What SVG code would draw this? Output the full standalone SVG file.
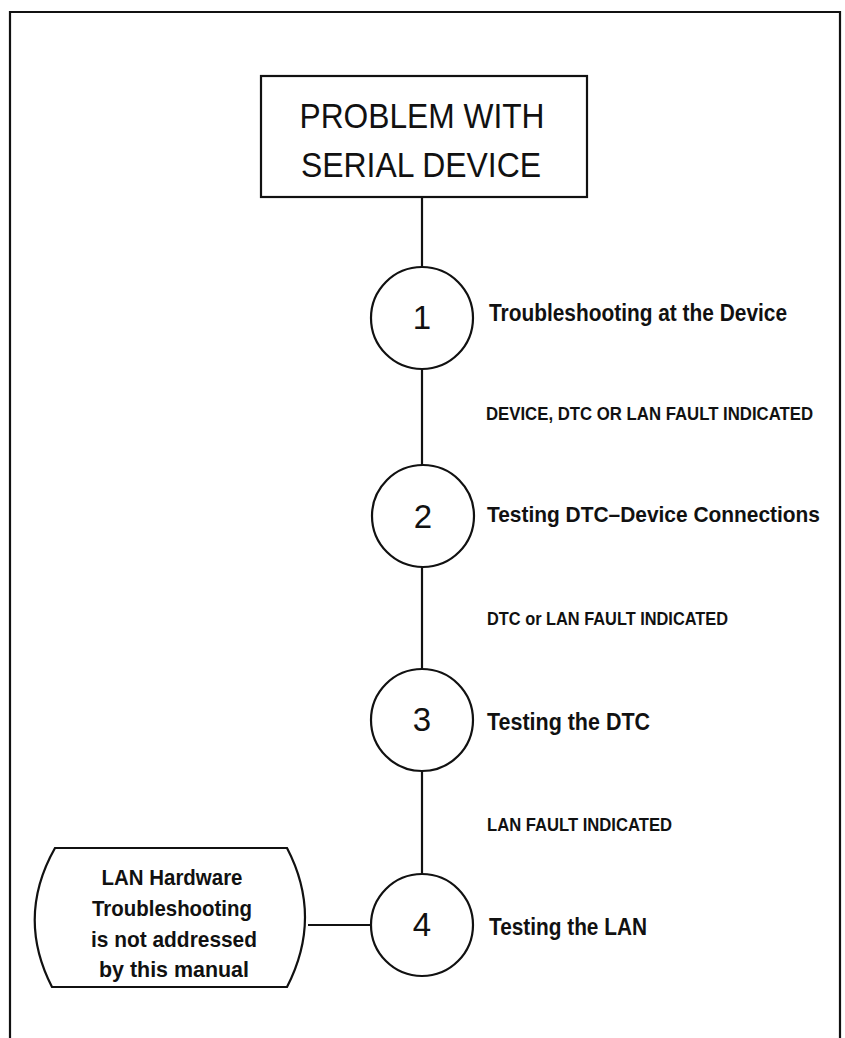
<svg xmlns="http://www.w3.org/2000/svg" width="845" height="1038" viewBox="0 0 845 1038">
<style>
.ln{stroke:#111;stroke-width:2.2;fill:none}
.nd{stroke:#111;stroke-width:2.2;fill:#fff}
.num{font-family:"Liberation Sans",Arial,sans-serif;font-size:33px;fill:#111;text-anchor:middle}
.ttl{font-family:"Liberation Sans",Arial,sans-serif;font-size:35px;fill:#111;text-anchor:middle}
.lbl{font-family:"Liberation Sans",Arial,sans-serif;font-size:23px;font-weight:bold;fill:#111}
.cnd{font-family:"Liberation Sans",Arial,sans-serif;font-size:18px;font-weight:bold;fill:#111}
.box{font-family:"Liberation Sans",Arial,sans-serif;font-size:22px;font-weight:bold;fill:#111;text-anchor:middle}
</style>
<rect x="0" y="0" width="845" height="1038" fill="#fff"/>
<path class="ln" d="M10,1040 V12 H840 V1040" stroke-width="2.6"/>
<g id="connectors">
<line class="ln" x1="422" y1="197" x2="422" y2="267"/>
<line class="ln" x1="422" y1="369" x2="422" y2="465"/>
<line class="ln" x1="422" y1="567" x2="422" y2="669"/>
<line class="ln" x1="422" y1="771" x2="422" y2="873"/>
<line class="ln" x1="308" y1="925" x2="372" y2="925"/>
</g>
<g id="start">
<rect class="nd" x="261" y="76" width="326" height="121"/>
<text class="ttl" x="422" y="128" textLength="245" lengthAdjust="spacingAndGlyphs">PROBLEM WITH</text>
<text class="ttl" x="421" y="177" textLength="240" lengthAdjust="spacingAndGlyphs">SERIAL DEVICE</text>
</g>
<g id="step1">
<circle class="nd" cx="422" cy="318" r="51"/>
<text class="num" x="422" y="329">1</text>
<text class="lbl" x="489" y="321" textLength="298" lengthAdjust="spacingAndGlyphs">Troubleshooting at the Device</text>
</g>
<g id="cond1"><text class="cnd" x="486" y="420" textLength="327" lengthAdjust="spacingAndGlyphs">DEVICE, DTC OR LAN FAULT INDICATED</text></g>
<g id="step2">
<circle class="nd" cx="423" cy="516" r="51"/>
<text class="num" x="423" y="528">2</text>
<text class="lbl" x="487" y="522" style="font-size:21.5px" textLength="333" lengthAdjust="spacingAndGlyphs">Testing DTC–Device Connections</text>
</g>
<g id="cond2"><text class="cnd" x="487" y="625" textLength="241" lengthAdjust="spacingAndGlyphs">DTC or LAN FAULT INDICATED</text></g>
<g id="step3">
<circle class="nd" cx="422" cy="720" r="51"/>
<text class="num" x="422" y="731">3</text>
<text class="lbl" x="487" y="730" textLength="163" lengthAdjust="spacingAndGlyphs">Testing the DTC</text>
</g>
<g id="cond3"><text class="cnd" x="487" y="831" textLength="185" lengthAdjust="spacingAndGlyphs">LAN FAULT INDICATED</text></g>
<g id="step4">
<circle class="nd" cx="422" cy="925" r="51"/>
<text class="num" x="422" y="936">4</text>
<text class="lbl" x="489" y="935" textLength="158" lengthAdjust="spacingAndGlyphs">Testing the LAN</text>
</g>
<g id="lanbox">
<path class="nd" d="M55,848 H287 Q323,917 287,987 H52 Q16,917 55,848 Z"/>
<text class="box" x="172" y="885" textLength="141" lengthAdjust="spacingAndGlyphs">LAN Hardware</text>
<text class="box" x="172" y="916" textLength="160" lengthAdjust="spacingAndGlyphs">Troubleshooting</text>
<text class="box" x="174" y="947" textLength="166" lengthAdjust="spacingAndGlyphs">is not addressed</text>
<text class="box" x="174" y="977" textLength="150" lengthAdjust="spacingAndGlyphs">by this manual</text>
</g>
</svg>
